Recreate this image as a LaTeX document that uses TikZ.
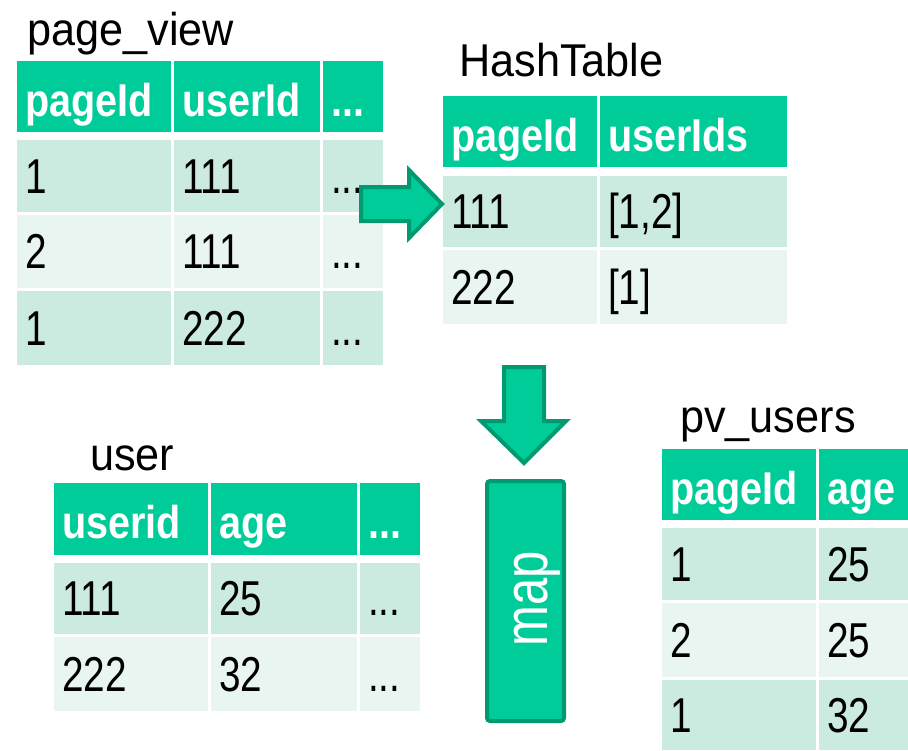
\documentclass[tikz,border=0pt]{standalone}
\usepackage{fontspec}
\setmainfont{Liberation Sans}[FakeStretch=0.79]
\newfontfamily\headfont{Liberation Sans}[FakeStretch=0.86]
\newfontfamily\titlefont{Liberation Sans}[FakeStretch=0.94]

\definecolor{hdr}{RGB}{0,204,153}
\definecolor{rowA}{RGB}{204,235,224}
\definecolor{rowB}{RGB}{232,245,240}
\definecolor{arrowline}{RGB}{0,153,112}

% one table cell: name, left, top, width, height, style, text
\newcommand\tcell[7]{%
  \pgfmathsetmacro\tcellw{#4-16}%
  \node[#6, minimum height=#5pt, text width=\tcellw pt] (#1) at (#2,#3) {#7};}

\begin{document}
\begin{tikzpicture}[x=1pt,y=-1pt,
  cellbase/.style={anchor=north west, inner xsep=8pt, inner ysep=0pt,
    text height=34pt, text depth=0pt, align=left,
    font=\fontsize{49}{56}\selectfont},
  hd/.style={cellbase, fill=hdr, text=white, text height=39pt,
    font=\headfont\fontsize{46}{54}\selectfont\bfseries},
  ra/.style={cellbase, fill=rowA},
  rb/.style={cellbase, fill=rowB},
  title/.style={anchor=base west, inner sep=0pt,
    font=\titlefont\fontsize{46}{54}\selectfont},
  blockarrow/.style={draw=arrowline, fill=hdr, line width=4pt, line join=miter}]

\useasboundingbox (0,0) rectangle (908,750);

% ---- page_view ----
\node[title] (tpv) at (27,45) {page\_view};
\tcell{pv-h1}{17}{61}{154}{71}{hd}{pageId}
\tcell{pv-h2}{174}{61}{146}{71}{hd}{userId}
\tcell{pv-h3}{323}{61}{60}{71}{hd}{...}
\tcell{pv-a1}{17}{140}{154}{72}{ra}{1}
\tcell{pv-a2}{174}{140}{146}{72}{ra}{111}
\tcell{pv-a3}{323}{140}{60}{72}{ra}{...}
\tcell{pv-b1}{17}{215}{154}{73}{rb}{2}
\tcell{pv-b2}{174}{215}{146}{73}{rb}{111}
\tcell{pv-b3}{323}{215}{60}{73}{rb}{...}
\tcell{pv-c1}{17}{291}{154}{74}{ra}{1}
\tcell{pv-c2}{174}{291}{146}{74}{ra}{222}
\tcell{pv-c3}{323}{291}{60}{74}{ra}{...}

% ---- HashTable ----
\node[title] (tht) at (459,76) {HashTable};
\tcell{ht-h1}{443}{96}{154}{71}{hd}{pageId}
\tcell{ht-h2}{600}{96}{187}{71}{hd}{userIds}
\tcell{ht-a1}{443}{176}{154}{71}{ra}{111}
\tcell{ht-a2}{600}{176}{187}{71}{ra}{[1,2]}
\tcell{ht-b1}{443}{250}{154}{74}{rb}{222}
\tcell{ht-b2}{600}{250}{187}{74}{rb}{[1]}

% ---- user ----
\node[title] (tus) at (90,470) {user};
\tcell{us-h1}{54}{483}{154}{72}{hd}{userid}
\tcell{us-h2}{211}{483}{146}{72}{hd}{age}
\tcell{us-h3}{360}{483}{60}{72}{hd}{...}
\tcell{us-a1}{54}{563}{154}{71}{ra}{111}
\tcell{us-a2}{211}{563}{146}{71}{ra}{25}
\tcell{us-a3}{360}{563}{60}{71}{ra}{...}
\tcell{us-b1}{54}{637}{154}{74}{rb}{222}
\tcell{us-b2}{211}{637}{146}{74}{rb}{32}
\tcell{us-b3}{360}{637}{60}{74}{rb}{...}

% ---- pv_users ----
\node[title] (tpu) at (680,432) {pv\_users};
\tcell{pu-h1}{662}{449}{154}{71}{hd}{pageId}
\tcell{pu-h2}{819}{449}{89}{71}{hd}{age}
\tcell{pu-a1}{662}{528}{154}{72}{ra}{1}
\tcell{pu-a2}{819}{528}{89}{72}{ra}{25}
\tcell{pu-b1}{662}{603}{154}{74}{rb}{2}
\tcell{pu-b2}{819}{603}{89}{74}{rb}{25}
\tcell{pu-c1}{662}{680}{154}{70}{ra}{1}
\tcell{pu-c2}{819}{680}{89}{70}{ra}{32}

% ---- block arrows ----
\draw[blockarrow] (361,187) -- (409,187) -- (409,170) -- (442,204)
  -- (409,238) -- (409,221) -- (361,221) -- cycle;
\draw[blockarrow] (504,367) -- (544,367) -- (544,421) -- (566,421)
  -- (524,463) -- (481,421) -- (504,421) -- cycle;

% ---- map step ----
\node[draw=arrowline, line width=4pt, fill=hdr, rounded corners=3pt,
  minimum width=77pt, minimum height=240pt, inner sep=0pt,
  anchor=north west] (map) at (485,479) {};
\node[rotate=90, anchor=base, inner sep=0pt, text=white,
  font=\fontsize{62}{70}\selectfont] (maplabel) at (547,599) {map};

\end{tikzpicture}
\end{document}
